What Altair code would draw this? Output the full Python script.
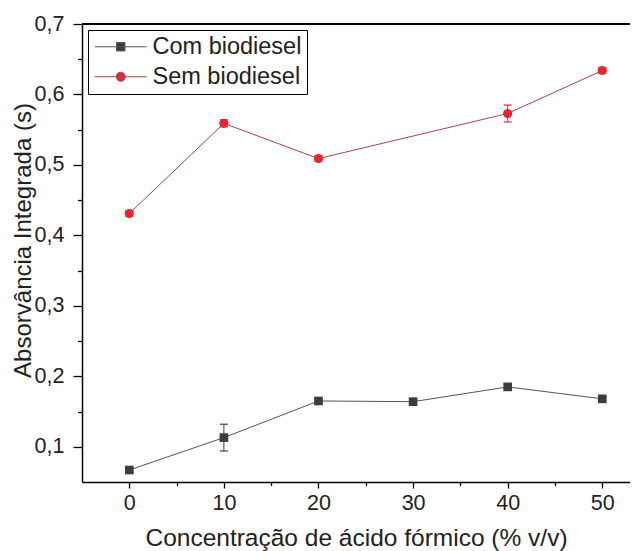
import altair as alt
import pandas as pd

# ---- data ----
SERIES = ["Com biodiesel", "Sem biodiesel"]

X_COM = [0, 10, 20, 30, 40, 50]
Y_COM = [0.067, 0.113, 0.165, 0.164, 0.185, 0.168]
E_COM = [0.003, 0.019, 0.003, 0.003, 0.004, 0.003]

X_SEM = [0, 10, 20, 40, 50]
Y_SEM = [0.431, 0.559, 0.509, 0.573, 0.634]
E_SEM = [0.004, 0.005, 0.004, 0.012, 0.004]

X_TICKS = [0, 5, 10, 15, 20, 25, 30, 35, 40, 45, 50]
Y_TICKS = [0.1, 0.15, 0.2, 0.25, 0.3, 0.35, 0.4, 0.45, 0.5, 0.55, 0.6, 0.65, 0.7]
X_DOMAIN = [-5, 52.93]
Y_DOMAIN = [0.05, 0.7]

X_TITLE = "Concentração de ácido fórmico (% v/v)"
Y_TITLE = "Absorvância Integrada (s)"

# ---- table built from the arrays ----
rows = []
for name, xs, ys, es in [(SERIES[0], X_COM, Y_COM, E_COM), (SERIES[1], X_SEM, Y_SEM, E_SEM)]:
    for x, y, e in zip(xs, ys, es):
        rows.append({"series": name, "x": x, "y": y, "lo": y - e, "hi": y + e})
df = pd.DataFrame(rows)

FONT = "Liberation Sans"
GRAY_MARK, GRAY_LINE = "#3d3d3d", "#555555"
RED_MARK, RED_LINE = "#e8262f", "#b0404c"

x_axis = alt.Axis(
    values=X_TICKS,
    labelExpr="datum.value % 10 === 0 ? datum.label : ''",
    tickSize={"condition": {"test": "datum.value % 10 !== 0", "value": 3.5}, "value": 6},
    title=X_TITLE, grid=False, domainColor="black", domainWidth=1.5,
    tickColor="black", tickWidth=1.3, labelFontSize=21.5, labelPadding=4,
    titleFontSize=24.5, titleFontWeight="normal", titleY=56, titleBaseline="middle",
    labelFlush=False, labelOverlap=False,
)
y_axis = alt.Axis(
    values=Y_TICKS,
    labelExpr="round(datum.value*100) % 10 === 0 ? replace(format(datum.value, '.1f'), '.', ',') : ''",
    tickSize={"condition": {"test": "round(datum.value*100) % 10 !== 0", "value": 4.5}, "value": 9},
    title=Y_TITLE, grid=False, domainColor="black", domainWidth=1.5,
    tickColor="black", tickWidth=1.3, labelFontSize=21.5, labelPadding=9,
    titleFontSize=24, titleFontWeight="normal", titleX=-59, titleY=216,
    titleBaseline="middle", titleAngle=-90, labelOverlap=False, labelFlush=False,
)

xs = alt.Scale(domain=X_DOMAIN, nice=False, zero=False)
ys = alt.Scale(domain=Y_DOMAIN, nice=False, zero=False)


def X():
    return alt.X("x:Q", scale=xs, axis=x_axis)


def Y(field="y"):
    return alt.Y(f"{field}:Q", scale=ys, axis=y_axis)


def series_layers(name, shape, mark_color, line_color, size):
    base = alt.Chart(df).transform_filter(alt.datum.series == name)
    line = base.mark_line(color=line_color, strokeWidth=1).encode(x=X(), y=Y())
    err = base.mark_rule(color=mark_color, strokeWidth=1).encode(x=X(), y=Y("lo"), y2="hi:Q")
    cap_lo = base.mark_tick(orient="horizontal", size=8, thickness=1.2, color=mark_color, opacity=1).encode(x=X(), y=Y("lo"))
    cap_hi = base.mark_tick(orient="horizontal", size=8, thickness=1.2, color=mark_color, opacity=1).encode(x=X(), y=Y("hi"))
    pts = base.mark_point(shape=shape, filled=True, size=size, color=mark_color, opacity=1).encode(x=X(), y=Y())
    return [line, err, cap_lo, cap_hi, pts]


top_border = alt.Chart(pd.DataFrame({"top": [Y_DOMAIN[1]]})).mark_rule(
    color="black", strokeWidth=2
).encode(y=Y("top"))

COM_PATH = "M-2.6,0H2.6M-0.42,-0.42H0.42V0.42H-0.42Z"
SEM_PATH = "M-2.6,0H2.6M-0.45,0A0.45,0.45,0,1,1,0.45,0A0.45,0.45,0,1,1,-0.45,0Z"

leg = alt.Legend(
    title=None, orient="none", legendX=6, legendY=6,
    symbolSize=400, symbolOffset=16, labelOffset=20, symbolStrokeWidth=1,
    labelFontSize=23.5, labelFont=FONT, labelColor="#222",
    padding=5, rowPadding=5, strokeColor="black", fillColor="white",
)
legend_layer = alt.Chart(df).transform_filter("false").mark_point(filled=True, opacity=1).encode(
    shape=alt.Shape("series:N", scale=alt.Scale(domain=SERIES, range=[COM_PATH, SEM_PATH]), legend=leg),
    fill=alt.Fill("series:N", scale=alt.Scale(domain=SERIES, range=[GRAY_MARK, RED_MARK]), legend=leg),
    stroke=alt.Stroke("series:N", scale=alt.Scale(domain=SERIES, range=[GRAY_LINE, RED_LINE]), legend=leg),
)

layers = [top_border]
layers += series_layers(SERIES[0], "square", GRAY_MARK, GRAY_LINE, 75)
layers += series_layers(SERIES[1], "circle", RED_MARK, RED_LINE, 85)
layers.append(legend_layer)

chart = alt.layer(*layers).properties(
    width=548, height=458,
    autosize=alt.AutoSizeParams(type="none"),
    padding={"left": 74, "top": 16, "right": 0, "bottom": 70},
).configure_view(stroke=None).configure_axis(
    labelFont=FONT, titleFont=FONT, labelColor="#222", titleColor="#222"
)

chart.save("out.html", embed_options={"renderer": "svg", "actions": False})
